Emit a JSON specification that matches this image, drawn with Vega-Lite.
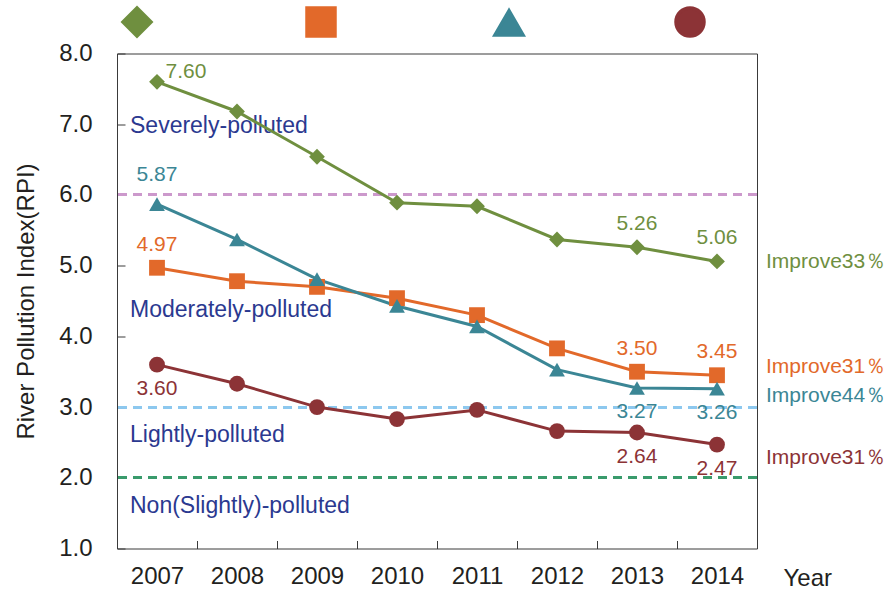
{
  "$schema": "https://vega.github.io/schema/vega-lite/v6.json",
  "width": 640,
  "height": 495,
  "autosize": "none",
  "padding": {"left": 117, "top": 53.5, "right": 134, "bottom": 42.5},
  "background": "white",
  "config": {
    "font": "Liberation Sans",
    "view": {"stroke": "#3a3a3a", "strokeWidth": 1},
    "axis": {"grid": false, "domain": false, "labelColor": "#231F20", "titleColor": "#231F20", "tickColor": "#3a3a3a", "labelFont": "Liberation Sans", "titleFont": "Liberation Sans"},
    "legend": {"labelFontSize": 20.5, "labelColor": "#231F20", "labelOffset": 15, "columnPadding": 21, "labelFont": "Liberation Sans", "padding": 0}
  },
  "datasets": {
    "rpi": [
      {"river": "Tanshui River", "year": 2007, "rpi": 7.60, "label": "7.60"},
      {"river": "Tanshui River", "year": 2008, "rpi": 7.18},
      {"river": "Tanshui River", "year": 2009, "rpi": 6.54},
      {"river": "Tanshui River", "year": 2010, "rpi": 5.89},
      {"river": "Tanshui River", "year": 2011, "rpi": 5.84},
      {"river": "Tanshui River", "year": 2012, "rpi": 5.37},
      {"river": "Tanshui River", "year": 2013, "rpi": 5.26, "label": "5.26"},
      {"river": "Tanshui River", "year": 2014, "rpi": 5.06, "label": "5.06", "improve": "Improve33％"},
      {"river": "Keelung River", "year": 2007, "rpi": 4.97, "label": "4.97"},
      {"river": "Keelung River", "year": 2008, "rpi": 4.78},
      {"river": "Keelung River", "year": 2009, "rpi": 4.70},
      {"river": "Keelung River", "year": 2010, "rpi": 4.54},
      {"river": "Keelung River", "year": 2011, "rpi": 4.30},
      {"river": "Keelung River", "year": 2012, "rpi": 3.83},
      {"river": "Keelung River", "year": 2013, "rpi": 3.50, "label": "3.50"},
      {"river": "Keelung River", "year": 2014, "rpi": 3.45, "label": "3.45", "improve": "Improve31％"},
      {"river": "Xindian River", "year": 2007, "rpi": 5.87, "label": "5.87"},
      {"river": "Xindian River", "year": 2008, "rpi": 5.37},
      {"river": "Xindian River", "year": 2009, "rpi": 4.81},
      {"river": "Xindian River", "year": 2010, "rpi": 4.43},
      {"river": "Xindian River", "year": 2011, "rpi": 4.14},
      {"river": "Xindian River", "year": 2012, "rpi": 3.53},
      {"river": "Xindian River", "year": 2013, "rpi": 3.27, "label": "3.27"},
      {"river": "Xindian River", "year": 2014, "rpi": 3.26, "label": "3.26", "improve": "Improve44％"},
      {"river": "Jingmei Rivrr", "year": 2007, "rpi": 3.60, "label": "3.60"},
      {"river": "Jingmei Rivrr", "year": 2008, "rpi": 3.33},
      {"river": "Jingmei Rivrr", "year": 2009, "rpi": 3.00},
      {"river": "Jingmei Rivrr", "year": 2010, "rpi": 2.83},
      {"river": "Jingmei Rivrr", "year": 2011, "rpi": 2.96},
      {"river": "Jingmei Rivrr", "year": 2012, "rpi": 2.66},
      {"river": "Jingmei Rivrr", "year": 2013, "rpi": 2.64, "label": "2.64"},
      {"river": "Jingmei Rivrr", "year": 2014, "rpi": 2.47, "label": "2.47", "improve": "Improve31％"}
    ],
    "zones": [
      {"zone": "Severely-polluted", "year": 2007, "level": 6.97},
      {"zone": "Moderately-polluted", "year": 2007, "level": 4.37},
      {"zone": "Lightly-polluted", "year": 2007, "level": 2.6},
      {"zone": "Non(Slightly)-polluted", "year": 2007, "level": 1.6}
    ],
    "series": [
      {"series": "Tanshui River"},
      {"series": "Keelung River"},
      {"series": "Xindian River"},
      {"series": "Jingmei Rivrr"}
    ]
  },
  "data": {"name": "rpi"},
  "encoding": {
    "x": {
      "field": "year", "type": "ordinal", "bandPosition": 0.5,
      "scale": {"type": "band", "paddingInner": 0, "paddingOuter": 0, "domain": [2007, 2008, 2009, 2010, 2011, 2012, 2013, 2014]},
      "axis": {"title": "Year", "titleFontSize": 24, "titleFontWeight": "normal", "titleAnchor": "start", "titleAlign": "left", "titleX": 666, "titleY": 30, "titleBaseline": "middle",
               "labelFontSize": 24, "labelAngle": 0, "tickBand": "extent", "tickSize": -8, "labelPadding": 24}
    },
    "y": {
      "field": "rpi", "type": "quantitative",
      "scale": {"domain": [1, 8], "nice": false, "zero": false},
      "axis": {"title": "River Pollution Index(RPI)", "titleFontSize": 24, "titleFontWeight": "normal", "titlePadding": 20,
               "values": [1, 2, 3, 4, 5, 6, 7, 8], "format": ".1f", "labelFontSize": 24, "tickSize": -8, "labelPadding": 33}
    }
  },
  "layer": [
    {"mark": {"type": "rule", "color": "#CC99CC", "strokeWidth": 2.2, "strokeDash": [9, 6]}, "encoding": {"y": {"datum": 6}, "x": null}},
    {"mark": {"type": "rule", "color": "#8DC8EE", "strokeWidth": 2.2, "strokeDash": [9, 6]}, "encoding": {"y": {"datum": 3}, "x": null}},
    {"mark": {"type": "rule", "color": "#3A9A6C", "strokeWidth": 2.2, "strokeDash": [9, 6]}, "encoding": {"y": {"datum": 2}, "x": null}},
    {
      "data": {"name": "zones"},
      "mark": {"type": "text", "align": "left", "baseline": "middle", "dx": -27, "fontSize": 23, "color": "#2B3990"},
      "encoding": {"y": {"field": "level", "type": "quantitative"}, "text": {"field": "zone"}}
    },
    {
      "data": {"name": "series"},
      "transform": [{"filter": "datum.series == 'none'"}],
      "mark": {"type": "rule", "strokeWidth": 3},
      "encoding": {
        "x": null,
        "y": {"datum": 5},
        "stroke": {"field": "series", "type": "nominal",
          "scale": {"domain": ["Tanshui River", "Keelung River", "Xindian River", "Jingmei Rivrr"], "range": ["#6F8F3F", "#E2692A", "#3B8695", "#8C3336"]},
          "legend": {"title": null, "orient": "none", "legendX": 4, "legendY": -47.5, "direction": "horizontal", "symbolType": "stroke", "symbolSize": 784, "symbolStrokeWidth": 3.5, "labelOffset": 8, "columnPadding": 14, "labelOpacity": 0}}
      }
    },
    {"mark": {"type": "line", "strokeWidth": 3}, "encoding": {"color": {"field": "river", "type": "nominal", "scale": {"domain": ["Tanshui River", "Keelung River", "Xindian River", "Jingmei Rivrr"], "range": ["#6F8F3F", "#E2692A", "#3B8695", "#8C3336"]}, "legend": {"title": null, "orient": "none", "legendX": 11, "legendY": -44, "direction": "horizontal", "symbolType": "stroke", "symbolSize": 190, "symbolStrokeWidth": 1.5}}}},
    {
      "mark": {"type": "point", "filled": true, "opacity": 1, "size": 250},
      "encoding": {
        "shape": {"field": "river", "type": "nominal", "legend": null, "scale": {"domain": ["Tanshui River", "Keelung River", "Xindian River", "Jingmei Rivrr"], "range": ["diamond", "square", "triangle-up", "circle"]}},
        "fill": {"field": "river", "type": "nominal", "legend": null, "scale": {"domain": ["Tanshui River", "Keelung River", "Xindian River", "Jingmei Rivrr"], "range": ["#6F8F3F", "#E2692A", "#3B8695", "#8C3336"]}}
      }
    },
    {
      "encoding": {
        "color": {"field": "river", "type": "nominal"}
      },
      "layer": [
        {
          "transform": [{"filter": "datum.river == 'Tanshui River' && datum.year == 2007"}],
          "mark": {"type": "text", "fontSize": 21, "dx": 29, "dy": -10, "baseline": "middle"},
          "encoding": {"text": {"field": "label"}}
        },
        {
          "transform": [{"filter": "datum.river == 'Xindian River' && datum.year == 2007"}],
          "mark": {"type": "text", "fontSize": 21, "dy": -29, "baseline": "middle"},
          "encoding": {"text": {"field": "label"}}
        },
        {
          "transform": [{"filter": "datum.label && ((datum.river == 'Tanshui River' && datum.year > 2007) || datum.river == 'Keelung River')"}],
          "mark": {"type": "text", "fontSize": 21, "dy": -23, "baseline": "middle"},
          "encoding": {"text": {"field": "label"}}
        },
        {
          "transform": [{"filter": "datum.label && (datum.river == 'Jingmei Rivrr' || (datum.river == 'Xindian River' && datum.year > 2007))"}],
          "mark": {"type": "text", "fontSize": 21, "dy": 24, "baseline": "middle"},
          "encoding": {"text": {"field": "label"}}
        },
        {
          "transform": [{"filter": "datum.improve && datum.river == 'Tanshui River'"}],
          "mark": {"type": "text", "fontSize": 21, "dx": 49, "dy": 1, "align": "left", "baseline": "middle"},
          "encoding": {"text": {"field": "improve"}}
        },
        {
          "transform": [{"filter": "datum.improve && datum.river == 'Keelung River'"}],
          "mark": {"type": "text", "fontSize": 21, "dx": 49, "dy": -8, "align": "left", "baseline": "middle"},
          "encoding": {"text": {"field": "improve"}}
        },
        {
          "transform": [{"filter": "datum.improve && datum.river == 'Xindian River'"}],
          "mark": {"type": "text", "fontSize": 21, "dx": 49, "dy": 7, "align": "left", "baseline": "middle"},
          "encoding": {"text": {"field": "improve"}}
        },
        {
          "transform": [{"filter": "datum.improve && datum.river == 'Jingmei Rivrr'"}],
          "mark": {"type": "text", "fontSize": 21, "dx": 49, "dy": 13.5, "align": "left", "baseline": "middle"},
          "encoding": {"text": {"field": "improve"}}
        }
      ]
    }
  ]
}
